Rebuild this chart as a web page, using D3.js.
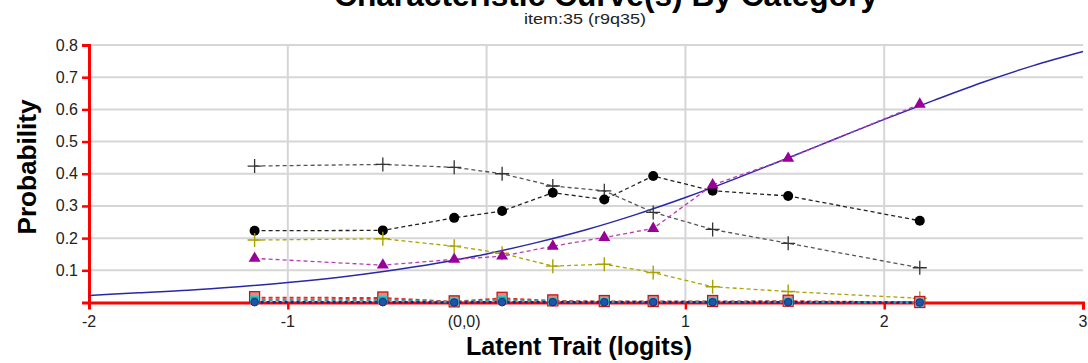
<!DOCTYPE html>
<html>
<head>
<meta charset="utf-8">
<script src="https://cdn.jsdelivr.net/npm/d3@7"></script>
<style>
html,body{margin:0;padding:0;background:#fff;}
svg{display:block;font-family:"Liberation Sans",Arial,sans-serif;}
</style>
</head>
<body>
<svg id="chart" width="1088" height="363"></svg>
<script>
// ---- data ----
const titleText = "Characteristic Curve(s) By Category";
const subtitleText = "item:35 (r9q35)";
const xLabel = "Latent Trait (logits)";
const yLabel = "Probability";
const xTicks = [-2, -1, 0, 1, 2, 3];
const xTickLabels = ["-2", "-1", "(0,0)", "1", "2", "3"];
const yTicks = [0.1, 0.2, 0.3, 0.4, 0.5, 0.6, 0.7, 0.8];
const yTickLabels = ["0.1", "0.2", "0.3", "0.4", "0.5", "0.6", "0.7", "0.8"];

const thetas = [-1.167, -0.522, -0.163, 0.078, 0.333, 0.592, 0.838, 1.137, 1.517, 2.179];
const grayPlus   = [0.424, 0.429, 0.420, 0.400, 0.362, 0.347, 0.280, 0.227, 0.184, 0.108];
const blackDot   = [0.223, 0.224, 0.263, 0.284, 0.341, 0.320, 0.393, 0.347, 0.331, 0.254];
const olivePlus  = [0.194, 0.198, 0.175, 0.153, 0.113, 0.119, 0.093, 0.049, 0.034, 0.013];
const purpleTri  = [0.137, 0.116, 0.134, 0.144, 0.175, 0.202, 0.230, 0.365, 0.448, 0.616];
const redSquare  = [0.015, 0.014, 0.002, 0.013, 0.005, 0.003, 0.003, 0.003, 0.004, 0.000];
const tealSquare = [0.008, 0.008, 0.001, 0.008, 0.003, 0.002, 0.002, 0.002, 0.002, 0.000];
const blueDot    = [0.001, 0.001, 0.000, 0.001, 0.001, 0.001, 0.001, 0.001, 0.001, 0.000];

const curveX = [-2, -1.75, -1.5, -1.25, -1, -0.75, -0.5, -0.25, 0, 0.25, 0.5, 0.75, 1, 1.25, 1.5, 1.75, 2, 2.25, 2.5, 2.75, 3];
const curveY = [0.022, 0.030, 0.038, 0.049, 0.062, 0.078, 0.098, 0.122, 0.151, 0.186, 0.226, 0.273, 0.326, 0.384, 0.445, 0.507, 0.569, 0.628, 0.685, 0.736, 0.780];

// ---- drawing ----
const svg = d3.select("#chart");
const x = d3.scaleLinear().domain([-2, 3]).range([89, 1083]);
const y = d3.scaleLinear().domain([0, 0.8]).range([302.5, 45]);

// gridlines
const grid = svg.append("g");
grid.selectAll("line.h").data(yTicks).join("line")
  .attr("x1", x(-2)).attr("x2", x(3))
  .attr("y1", d => y(d)).attr("y2", d => y(d))
  .attr("stroke", "#d6d6d6").attr("stroke-width", 2);
grid.selectAll("line.v").data(xTicks.filter(d => d > -2 && d < 3)).join("line")
  .attr("x1", d => x(d)).attr("x2", d => x(d))
  .attr("y1", y(0)).attr("y2", y(0.8))
  .attr("stroke", "#d6d6d6").attr("stroke-width", 2);

// axes (red)
const xAxis = d3.axisBottom(x).tickValues(xTicks.filter(d => d !== 0 && d !== -2))
  .tickSize(7).tickFormat("");
const gx = svg.append("g").attr("transform", `translate(0,${y(0)})`).call(xAxis);
gx.select(".domain").attr("stroke", "#ff0000").attr("stroke-width", 3);
gx.selectAll(".tick line").attr("stroke", "#ff0000").attr("stroke-width", 2.5);

const yAxis = d3.axisLeft(y).tickValues(yTicks).tickSize(7).tickFormat("");
const gy = svg.append("g").attr("transform", `translate(${x(-2)},0)`).call(yAxis);
gy.select(".domain").attr("stroke", "#ff0000").attr("stroke-width", 3);
gy.selectAll(".tick line").attr("stroke", "#ff0000").attr("stroke-width", 2.5);

// tick labels
svg.append("g").selectAll("text").data(yTicks).join("text")
  .attr("x", 78).attr("y", d => y(d) + 5.5)
  .attr("text-anchor", "end").attr("font-size", 16).attr("fill", "#222")
  .text((d, i) => yTickLabels[i]);
svg.append("g").selectAll("text").data(xTicks).join("text")
  .attr("x", d => d === 0 ? x(d) - 6 : x(d))
  .attr("y", 327)
  .attr("text-anchor", d => d === 0 ? "end" : "middle")
  .attr("font-size", 16).attr("fill", "#222")
  .text((d, i) => xTickLabels[i]);

// model curve
const lineGen = d3.line().x(d => x(d[0])).y(d => y(d[1]));
svg.append("path")
  .datum(curveX.map((v, i) => [v, curveY[i]]))
  .attr("d", lineGen.curve(d3.curveMonotoneX))
  .attr("fill", "none").attr("stroke", "#2828a8").attr("stroke-width", 1.5);

const dashed = d3.line().x(d => x(d[0])).y(d => y(d[1]));
function series(vals, color, dash, width) {
  svg.append("path")
    .datum(thetas.map((t, i) => [t, vals[i]]))
    .attr("d", dashed)
    .attr("fill", "none").attr("stroke", color)
    .attr("stroke-width", width).attr("stroke-dasharray", dash);
}
series(grayPlus, "#555", "4,3", 1.3);
series(blackDot, "#222", "4,3", 1.3);
series(olivePlus, "#aaa400", "4,3", 1.3);
series(purpleTri, "#b83cb8", "4,3", 1.3);
series(redSquare, "#e02a2a", "4,3", 2);
series(tealSquare, "#2aa6a6", "4,3", 2);
series(blueDot, "#1c2090", "3,3", 2.5);

function pts(vals) { return thetas.map((t, i) => [t, vals[i]]); }

// markers
svg.append("g").selectAll("path").data(pts(grayPlus)).join("path")
  .attr("transform", d => `translate(${x(d[0])},${y(d[1])})`)
  .attr("d", "M-7,0H7M0,-7V7").attr("stroke", "#333").attr("stroke-width", 1.3);
svg.append("g").selectAll("circle").data(pts(blackDot)).join("circle")
  .attr("cx", d => x(d[0])).attr("cy", d => y(d[1])).attr("r", 5).attr("fill", "#000");
svg.append("g").selectAll("path").data(pts(olivePlus)).join("path")
  .attr("transform", d => `translate(${x(d[0])},${y(d[1])})`)
  .attr("d", "M-7,0H7M0,-7V7").attr("stroke", "#a8a200").attr("stroke-width", 1.4);
svg.append("g").selectAll("path").data(pts(purpleTri)).join("path")
  .attr("transform", d => `translate(${x(d[0])},${y(d[1])})`)
  .attr("d", d3.symbol(d3.symbolTriangle, 62)).attr("fill", "#990099");
svg.append("g").selectAll("rect").data(pts(redSquare)).join("rect")
  .attr("x", d => x(d[0]) - 5).attr("y", d => y(d[1]) - 6)
  .attr("width", 10).attr("height", 11)
  .attr("fill", "#e08a8a").attr("stroke", "#c01818").attr("stroke-width", 1.3);
svg.append("g").selectAll("rect").data(pts(tealSquare)).join("rect")
  .attr("x", d => x(d[0]) - 4).attr("y", d => y(d[1]) - 3.5)
  .attr("width", 8).attr("height", 7)
  .attr("fill", "#22a0a0").attr("stroke", "#30c8c8").attr("stroke-width", 1);
svg.append("g").selectAll("circle").data(pts(blueDot)).join("circle")
  .attr("cx", d => x(d[0])).attr("cy", d => y(d[1])).attr("r", 3.8)
  .attr("fill", "#1f55a8").attr("stroke", "#142f80").attr("stroke-width", 1);

// titles
svg.append("text").attr("x", 606).attr("y", 6).attr("text-anchor", "middle")
  .attr("font-size", 31).attr("font-weight", "bold").attr("fill", "#000")
  .attr("textLength", 544).attr("lengthAdjust", "spacingAndGlyphs")
  .text(titleText);
svg.append("text").attr("x", 585).attr("y", 24).attr("text-anchor", "middle")
  .attr("font-size", 15).attr("fill", "#222")
  .attr("textLength", 122).attr("lengthAdjust", "spacingAndGlyphs")
  .text(subtitleText);
svg.append("text").attr("x", 579).attr("y", 355).attr("text-anchor", "middle")
  .attr("font-size", 25).attr("font-weight", "bold").attr("fill", "#000")
  .attr("textLength", 226).attr("lengthAdjust", "spacingAndGlyphs")
  .text(xLabel);
svg.append("text").attr("transform", "translate(36,167) rotate(-90)")
  .attr("text-anchor", "middle")
  .attr("font-size", 26).attr("font-weight", "bold").attr("fill", "#000")
  .attr("textLength", 135).attr("lengthAdjust", "spacingAndGlyphs")
  .text(yLabel);
</script>
</body>
</html>
